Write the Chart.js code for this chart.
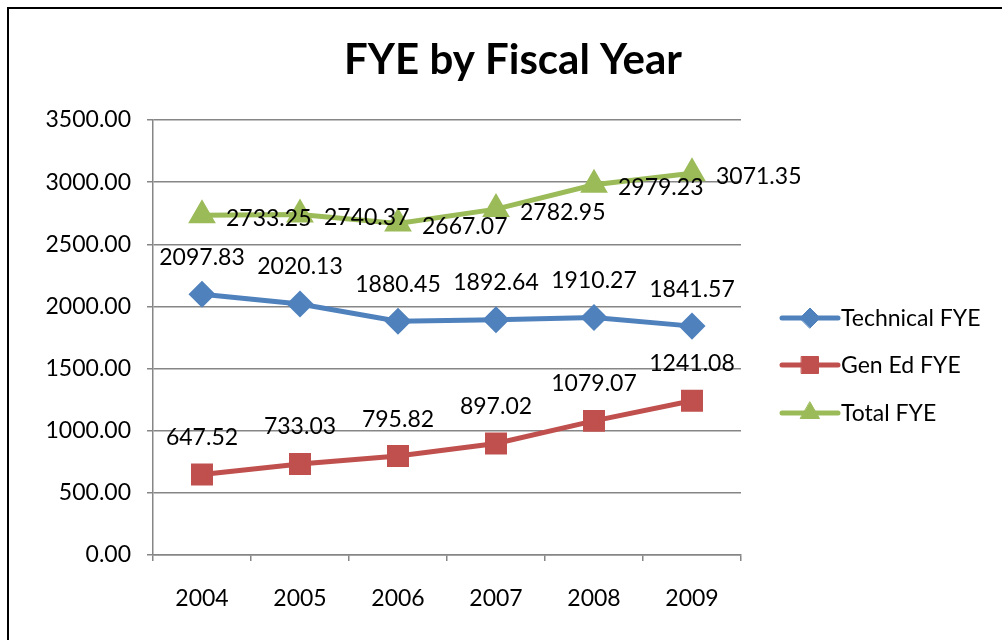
<!DOCTYPE html>
<html>
<head>
<meta charset="utf-8">
<script src="https://cdn.jsdelivr.net/npm/chart.js@4.4.0/dist/chart.umd.min.js"></script>
<style>
  html, body { margin: 0; padding: 0; background: #fff; overflow: hidden; }
  #wrap { position: relative; width: 1002px; height: 640px; }
  #frame { position: absolute; left: 7px; top: 7px; width: 1010px; height: 650px; border: 2px solid #000; box-sizing: border-box; pointer-events: none; }
  canvas { position: absolute; left: 0; top: 0; }
</style>
</head>
<body>
<div id="wrap">
  <canvas id="fyeChart" width="1002" height="640"></canvas>
  <div id="frame"></div>
</div>
<script>
// Chart data
const years = ['2004', '2005', '2006', '2007', '2008', '2009'];
const technicalFYE = [2097.83, 2020.13, 1880.45, 1892.64, 1910.27, 1841.57];
const genEdFYE = [647.52, 733.03, 795.82, 897.02, 1079.07, 1241.08];
const totalFYE = [2733.25, 2740.37, 2667.07, 2782.95, 2979.23, 3071.35];

const FONT = 'Lato, "Open Sans", sans-serif';
const GRID = '#868686';

// Title centred over the whole picture (not just the plot)
const bigTitle = {
  id: 'bigTitle',
  afterDraw(chart) {
    const ctx = chart.ctx;
    ctx.save();
    ctx.font = 'bold 42px ' + FONT;
    ctx.fillStyle = '#000';
    ctx.textAlign = 'center';
    ctx.textBaseline = 'middle';
    ctx.fillText('FYE by Fiscal Year', 513, 60);
    ctx.restore();
  }
};

// Value labels next to each point
const pointLabels = {
  id: 'pointLabels',
  afterDatasetsDraw(chart) {
    const ctx = chart.ctx;
    ctx.save();
    ctx.font = '23px ' + FONT;
    ctx.fillStyle = '#000';
    chart.data.datasets.forEach((ds, i) => {
      const meta = chart.getDatasetMeta(i);
      meta.data.forEach((pt, j) => {
        const txt = ds.data[j].toFixed(2);
        ctx.textBaseline = 'middle';
        if (ds.labelPos === 'right') {
          ctx.textAlign = 'left';
          ctx.fillText(txt, pt.x + 24, pt.y + 3);
        } else {
          ctx.textAlign = 'center';
          ctx.fillText(txt, pt.x, pt.y - 37);
        }
      });
    });
    ctx.restore();
  }
};

// Excel-like legend on the right: line with marker, then the name
const sideLegend = {
  id: 'sideLegend',
  afterDraw(chart) {
    const ctx = chart.ctx;
    const x0 = 782, x1 = 838;
    const ys = [318, 365, 413];
    ctx.save();
    chart.data.datasets.forEach((ds, i) => {
      const y = ys[i];
      ctx.strokeStyle = ds.borderColor;
      ctx.lineWidth = 5;
      ctx.lineCap = 'round';
      ctx.beginPath();
      ctx.moveTo(x0, y);
      ctx.lineTo(x1, y);
      ctx.stroke();
      ctx.fillStyle = ds.pointBackgroundColor;
      ctx.strokeStyle = ds.pointBorderColor;
      ctx.lineWidth = 1;
      Chart.helpers.drawPoint(ctx, { pointStyle: ds.pointStyle, radius: ds.pointRadius, borderWidth: 1, rotation: 0 }, (x0 + x1) / 2, y);
      ctx.fillStyle = '#000';
      ctx.font = '23px ' + FONT;
      ctx.textAlign = 'left';
      ctx.textBaseline = 'middle';
      ctx.fillText(ds.label, x1 + 3, y + 1);
    });
    ctx.restore();
  }
};

const ctx = document.getElementById('fyeChart').getContext('2d');
const fyeChart = new Chart(ctx, {
  type: 'line',
  data: {
    labels: years,
    datasets: [{
      label: 'Technical FYE',
      data: technicalFYE,
      borderColor: '#4F81BD',
      backgroundColor: '#4F81BD',
      pointBackgroundColor: '#4F81BD',
      pointBorderColor: '#4F81BD',
      pointStyle: 'rectRot',
      pointRadius: 10,
      borderWidth: 5,
      labelPos: 'top'
    }, {
      label: 'Gen Ed FYE',
      data: genEdFYE,
      borderColor: '#C0504D',
      backgroundColor: '#C0504D',
      pointBackgroundColor: '#C0504D',
      pointBorderColor: '#C0504D',
      pointStyle: 'rect',
      pointRadius: 12,
      borderWidth: 5,
      labelPos: 'top'
    }, {
      label: 'Total FYE',
      data: totalFYE,
      borderColor: '#9BBB59',
      backgroundColor: '#9BBB59',
      pointBackgroundColor: '#9BBB59',
      pointBorderColor: '#9BBB59',
      pointStyle: 'triangle',
      pointRadius: 11,
      borderWidth: 5,
      labelPos: 'right'
    }]
  },
  options: {
    responsive: false,
    animation: false,
    layout: { padding: { left: 0, top: 120, right: 261, bottom: 0 } },
    plugins: {
      legend: { display: false },
      tooltip: { enabled: false },
      title: { display: false }
    },
    scales: {
      x: {
        offset: true,
        grid: { drawOnChartArea: false, drawTicks: true, tickLength: 6, color: GRID, lineWidth: 1.5, offset: true },
        border: { color: GRID, width: 1.5 },
        ticks: { color: '#000', padding: 24, font: { family: FONT, size: 23 } },
        afterFit(axis) { axis.height = 85; }
      },
      y: {
        min: 0,
        max: 3500,
        grid: { color: GRID, lineWidth: 1.5, tickLength: 6 },
        border: { color: GRID, width: 1.5 },
        ticks: {
          stepSize: 500,
          color: '#000',
          padding: 16,
          font: { family: FONT, size: 23 },
          callback: function(value) { return value.toFixed(2); }
        },
        afterFit(axis) { axis.width = 153; }
      }
    }
  },
  plugins: [pointLabels, sideLegend, bigTitle]
});
</script>
</body>
</html>
